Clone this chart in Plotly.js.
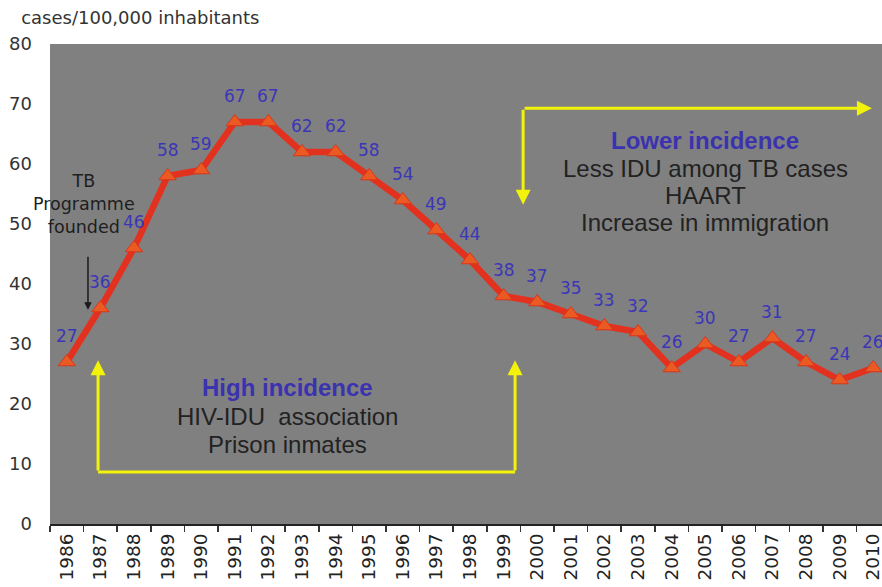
<!DOCTYPE html>
<html><head><meta charset="utf-8">
<script src="https://cdn.plot.ly/plotly-3.0.1.min.js"></script>
<style>html,body{margin:0;padding:0;background:#fff}#chart{width:882px;height:587px}</style>
</head><body><div id="chart"></div>
<script>
const years = ['1986','1987','1988','1989','1990','1991','1992','1993','1994','1995','1996','1997','1998','1999','2000','2001','2002','2003','2004','2005','2006','2007','2008','2009','2010'];
const incidence = [27,36,46,58,59,67,67,62,62,58,54,49,44,38,37,35,33,32,26,30,27,31,27,24,26];
const yTicks = [0,10,20,30,40,50,60,70,80];
const lowerLines = ['Less IDU among TB cases', 'HAART', 'Increase in immigration'];
const highLines = ['HIV-IDU  association', 'Prison inmates'];

const yellow = '#f2f20a';
const blue = '#3b32b0';
const trace = {
  x: years, y: incidence, type: 'scatter', mode: 'lines+markers',
  line: {color: '#e2321f', width: 6.5},
  marker: {symbol: 'triangle-up', size: 15, color: '#ea5a22', line: {color: '#d8361a', width: 1}},
  hoverinfo: 'skip'
};

const valueLabels = years.map((yr, i) => ({
  x: i, y: incidence[i], xref: 'x', yref: 'y', text: String(incidence[i]),
  showarrow: false, yshift: 26, xanchor: 'center', yanchor: 'middle',
  font: {family: 'DejaVu Sans', size: 17, color: '#3b36b8'}
}));

function textLine(x, y, text, opts) {
  return Object.assign({x: x, y: y, xref: 'x', yref: 'y', text: text, showarrow: false,
    xanchor: 'center', yanchor: 'middle',
    font: {family: 'Liberation Sans', size: 24, color: '#222'}}, opts || {});
}

const lowerY = [59.33, 54.83, 50.33];
const highY = [18.0, 13.17];
const textAnn = [
  {x: 0.52, y: 53.3, text: 'TB<br>Programme<br>founded', showarrow: false,
   font: {family: 'DejaVu Sans', size: 17.5, color: '#1e1e1e'}, align: 'center'},
  textLine(19.0, 64.0, '<b>Lower incidence</b>', {font: {family: 'Liberation Sans', size: 24, color: blue}}),
  textLine(6.58, 22.83, '<b>High incidence</b>', {font: {family: 'Liberation Sans', size: 24, color: blue}}),
  // black arrow
  {x: 0.63, y: 35.7, ax: 0.63, ay: 44.8, axref: 'x', ayref: 'y', xref: 'x', yref: 'y', text: '',
   showarrow: true, arrowhead: 2, arrowsize: 1, arrowwidth: 1.5, arrowcolor: '#1a1a1a'},
  // yellow arrowheads
  {x: 0.93, y: 27.3, ax: 0.93, ay: 8.67, axref: 'x', ayref: 'y', text: '', showarrow: true,
   arrowhead: 2, arrowsize: 1, arrowwidth: 3, arrowcolor: yellow},
  {x: 13.34, y: 27.3, ax: 13.34, ay: 8.67, axref: 'x', ayref: 'y', text: '', showarrow: true,
   arrowhead: 2, arrowsize: 1, arrowwidth: 3, arrowcolor: yellow},
  {x: 13.58, y: 53.2, ax: 13.58, ay: 69.3, axref: 'x', ayref: 'y', text: '', showarrow: true,
   arrowhead: 2, arrowsize: 1, arrowwidth: 3, arrowcolor: yellow},
  {x: 23.96, y: 69.3, ax: 13.58, ay: 69.3, axref: 'x', ayref: 'y', text: '', showarrow: true,
   arrowhead: 2, arrowsize: 1, arrowwidth: 3, arrowcolor: yellow}
].concat(lowerLines.map((t, i) => textLine(19.0, lowerY[i], t)))
 .concat(highLines.map((t, i) => textLine(6.58, highY[i], t)));

const shapes = [
  {type: 'line', xref: 'x', yref: 'y', x0: 0.93, y0: 8.67, x1: 13.34, y1: 8.67, line: {color: yellow, width: 3}}
];

const layout = {
  width: 882, height: 587,
  margin: {l: 50, r: 0, t: 44, b: 63},
  paper_bgcolor: '#ffffff', plot_bgcolor: '#808080',
  showlegend: false,
  title: {text: 'cases/100,000 inhabitants', x: 0.024, xref: 'container', xanchor: 'left',
          y: 0.97, yref: 'container', yanchor: 'middle',
          font: {family: 'DejaVu Sans', size: 18, color: '#333'}},
  xaxis: {type: 'category', range: [-0.5, 24.26], tickson: 'boundaries', ticks: 'outside',
          ticklen: 6, tickcolor: '#333', tickwidth: 1.5, showline: true, linecolor: '#222', linewidth: 2,
          tickangle: -90, tickfont: {family: 'DejaVu Sans', size: 18.5, color: '#222'},
          showgrid: false, zeroline: false, fixedrange: true},
  yaxis: {range: [0, 80], tickvals: yTicks, ticktext: yTicks.map(String), showgrid: false,
          zeroline: false, showline: false, ticks: '', ticklabelstandoff: 17,
          tickfont: {family: 'DejaVu Sans', size: 18, color: '#333'}, fixedrange: true},
  annotations: valueLabels.concat(textAnn),
  shapes: shapes
};

Plotly.newPlot('chart', [trace], layout, {staticPlot: true, displayModeBar: false});
</script></body></html>
